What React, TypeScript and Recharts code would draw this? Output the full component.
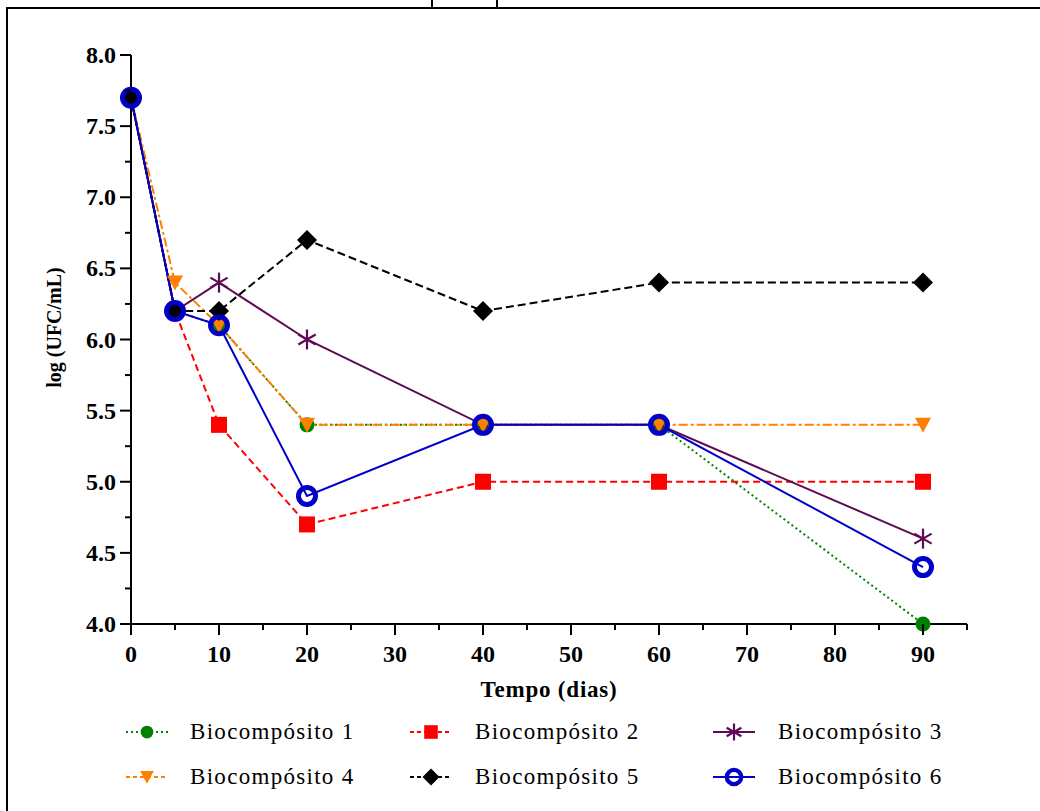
import React from "react";
import { LineChart, Line, XAxis, YAxis, Legend, Label } from "recharts";

// tempo (dias) e log (UFC/mL) para cada biocompósito
const days = [0, 5, 10, 20, 40, 60, 90];
const bio1 = [7.7, 6.2, 6.1, 5.4, 5.4, 5.4, 4.0];
const bio2 = [7.7, 6.2, 5.4, 4.7, 5.0, 5.0, 5.0];
const bio3 = [7.7, 6.2, 6.4, 6.0, 5.4, 5.4, 4.6];
const bio4 = [7.7, 6.4, 6.1, 5.4, 5.4, 5.4, 5.4];
const bio5 = [7.7, 6.2, 6.2, 6.7, 6.2, 6.4, 6.4];
const bio6 = [7.7, 6.2, 6.1, 4.9, 5.4, 5.4, 4.4];
const names = [
  "Biocompósito 1",
  "Biocompósito 2",
  "Biocompósito 3",
  "Biocompósito 4",
  "Biocompósito 5",
  "Biocompósito 6",
];
const xTicks = [0, 5, 10, 15, 20, 25, 30, 35, 40, 45, 50, 55, 60, 65, 70, 75, 80, 85, 90, 95];
const yTicks = [4, 4.25, 4.5, 4.75, 5, 5.25, 5.5, 5.75, 6, 6.25, 6.5, 6.75, 7, 7.25, 7.5, 7.75, 8];

const allSeries = [bio1, bio2, bio3, bio4, bio5, bio6];
const data = days.map((d, i) => {
  const row: Record<string, number> = { day: d };
  allSeries.forEach((s, k) => (row["b" + (k + 1)] = s[i]));
  return row;
});

const FONT = '"Liberation Serif", "Times New Roman", serif';

const styles = [
  { key: "b1", color: "#008000", dash: "2 3", legendDash: "2 3", shape: "circle" },
  { key: "b2", color: "#ff0000", dash: "7 4", legendDash: "4 3", shape: "square" },
  { key: "b3", color: "#5e0a55", dash: undefined, legendDash: undefined, shape: "star" },
  { key: "b4", color: "#ff8000", dash: "9 3 3 3", legendDash: "4 3", shape: "tri" },
  { key: "b5", color: "#000000", dash: "8 4", legendDash: "4 3", shape: "diamond" },
  { key: "b6", color: "#0000c8", dash: undefined, legendDash: undefined, shape: "ring" },
];

function Marker({ shape, cx, cy, color, s = 1 }: any) {
  if (cx == null || cy == null) return null;
  switch (shape) {
    case "circle":
      return <circle cx={cx} cy={cy} r={7.5 * s} fill={color} />;
    case "square":
      return <rect x={cx - 8 * s} y={cy - 8 * s} width={16 * s} height={16 * s} fill={color} />;
    case "tri":
      return (
        <polygon
          points={`${cx - 8 * s},${cy - 7 * s} ${cx + 8 * s},${cy - 7 * s} ${cx},${cy + 8 * s}`}
          fill={color}
        />
      );
    case "diamond":
      return (
        <polygon
          points={`${cx},${cy - 10 * s} ${cx + 10 * s},${cy} ${cx},${cy + 10 * s} ${cx - 10 * s},${cy}`}
          fill={color}
        />
      );
    case "star": {
      const r = 10 * s;
      const a = [90, 30, 150].map((d) => (d * Math.PI) / 180);
      return (
        <g stroke={color} strokeWidth={2.2}>
          {a.map((t, i) => (
            <line
              key={i}
              x1={cx - r * Math.cos(t)}
              y1={cy - r * Math.sin(t)}
              x2={cx + r * Math.cos(t)}
              y2={cy + r * Math.sin(t)}
            />
          ))}
        </g>
      );
    }
    case "ring":
      return <circle cx={cx} cy={cy} r={8.5 * s} fill="none" stroke={color} strokeWidth={5 * s} />;
  }
  return null;
}

function XTick(props: any) {
  const { x, y, payload } = props;
  const v = payload.value;
  const major = v % 10 === 0;
  return (
    <g>
      <line x1={x} y1={y} x2={x} y2={y + (major ? 11 : 6)} stroke="#000" strokeWidth={2} />
      {major && v !== 95 && (
        <text x={x} y={662} textAnchor="middle" fontFamily={FONT} fontWeight="bold" fontSize={24} fill="#000">
          {v}
        </text>
      )}
    </g>
  );
}

function YTick(props: any) {
  const { x, y, payload } = props;
  const v = payload.value;
  const major = Math.abs(v * 2 - Math.round(v * 2)) < 1e-6;
  return (
    <g>
      <line x1={x} y1={y} x2={x - (major ? 11 : 6)} y2={y} stroke="#000" strokeWidth={2} />
      {major && (
        <text x={x - 15} y={y + 8} textAnchor="end" fontFamily={FONT} fontWeight="bold" fontSize={24} fill="#000">
          {v.toFixed(1)}
        </text>
      )}
    </g>
  );
}

const legendCols = [
  { sx: 147, tx: 190 },
  { sx: 431, tx: 475 },
  { sx: 734, tx: 778 },
];
const legendRows = [32, 77];

function renderLegend() {
  return (
    <div style={{ position: "relative", width: 1040, height: 100 }}>
      {styles.map((st, i) => {
        const col = legendCols[i % 3];
        const rowY = legendRows[Math.floor(i / 3)];
        return (
          <React.Fragment key={st.key}>
            <svg
              width={46}
              height={26}
              style={{ position: "absolute", left: col.sx - 23, top: rowY - 13, overflow: "visible" }}
            >
              <line x1={2} y1={13} x2={44} y2={13} stroke={st.color} strokeWidth={2} strokeDasharray={st.legendDash} />
              <Marker shape={st.shape} cx={23} cy={13} color={st.color} s={0.85} />
            </svg>
            <div
              style={{
                position: "absolute",
                left: col.tx,
                top: rowY - 15,
                height: 30,
                lineHeight: "30px",
                fontFamily: FONT,
                fontSize: 23,
                letterSpacing: 1.3,
                color: "#000",
                whiteSpace: "nowrap",
              }}
            >
              {names[i]}
            </div>
          </React.Fragment>
        );
      })}
    </div>
  );
}

export default function App() {
  return (
    <div style={{ position: "absolute", left: 0, top: 0, width: 1040, height: 811, overflow: "hidden", background: "#fff" }}>
      <div
        style={{
          position: "absolute",
          left: 6,
          top: 7,
          width: 1100,
          height: 900,
          border: "2.5px solid #000",
        }}
      />
      <div style={{ position: "absolute", left: 431, top: 0, width: 2, height: 8, background: "#000" }} />
      <div style={{ position: "absolute", left: 496, top: 0, width: 2, height: 8, background: "#000" }} />
      <div style={{ position: "absolute", left: 0, top: 0 }}>
        <LineChart width={1040} height={811} data={data} margin={{ top: 55, right: 73, bottom: 147, left: 71 }}>
          <XAxis
            type="number"
            dataKey="day"
            domain={[0, 95]}
            ticks={xTicks}
            interval={0}
            tickLine={false}
            tickSize={0}
            tickMargin={0}
            tick={<XTick />}
            height={40}
            axisLine={{ stroke: "#000", strokeWidth: 2 }}
          >
            <Label
              content={({ viewBox }: any) => (
                <text
                  x={viewBox.x + viewBox.width / 2}
                  y={697}
                  textAnchor="middle"
                  fontFamily={FONT}
                  fontWeight="bold"
                  fontSize={23}
                  letterSpacing={0.8}
                  fill="#000"
                >
                  Tempo (dias)
                </text>
              )}
            />
          </XAxis>
          <YAxis
            type="number"
            domain={[4, 8]}
            ticks={yTicks}
            interval={0}
            width={60}
            tickLine={false}
            tickSize={0}
            tickMargin={0}
            tick={<YTick />}
            axisLine={{ stroke: "#000", strokeWidth: 2 }}
          >
            <Label
              content={({ viewBox }: any) => {
                const x = 61;
                const y = viewBox.y + viewBox.height / 2 - 12;
                return (
                  <text
                    x={x}
                    y={y}
                    transform={`rotate(-90 ${x} ${y})`}
                    textAnchor="middle"
                    fontFamily={FONT}
                    fontWeight="bold"
                    fontSize={20}
                    fill="#000"
                  >
                    log (UFC/mL)
                  </text>
                );
              }}
            />
          </YAxis>
          <Legend
            layout="horizontal"
            verticalAlign="middle"
            align="center"
            content={renderLegend}
            wrapperStyle={{ top: 700, left: 0, width: 1040, height: 100 }}
          />
          {styles.map((st, i) => (
            <Line
              key={st.key}
              type="linear"
              dataKey={st.key}
              name={names[i]}
              stroke={st.color}
              strokeWidth={2}
              strokeDasharray={st.dash}
              isAnimationActive={false}
              activeDot={false}
              dot={(p: any) => <Marker key={st.key + p.index} shape={st.shape} cx={p.cx} cy={p.cy} color={st.color} />}
            />
          ))}
        </LineChart>
      </div>
    </div>
  );
}
